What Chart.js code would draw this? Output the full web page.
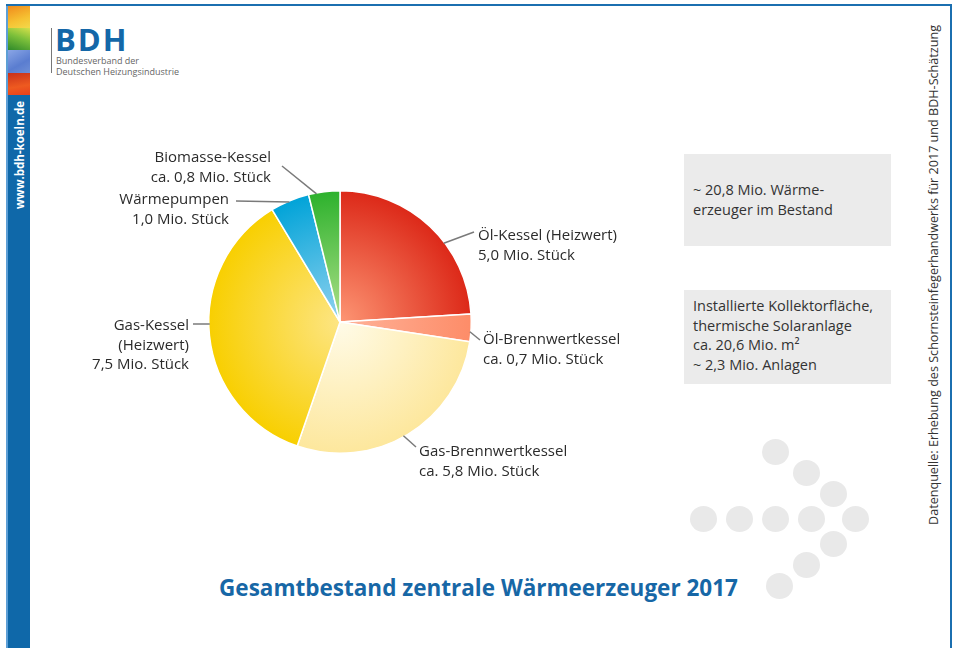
<!DOCTYPE html>
<html>
<head>
<meta charset="utf-8">
<script src="https://cdn.jsdelivr.net/npm/chart.js@4"></script>
<style>
    body { margin: 0; background: #fff; font-family: "Open Sans", sans-serif; }
    #page { position: relative; width: 957px; height: 648px; overflow: hidden; }
    #pie { position: absolute; left: 0; top: 0; }
    .abs { position: absolute; }
    .box { position: absolute; background: #ebebeb; color: #333; font-size: 14.5px; line-height: 19.5px; box-sizing: border-box; padding-left: 9px; }
    .dot { position: absolute; width: 27px; height: 26px; border-radius: 50%; background: #e9e9e9; }
</style>
</head>
<body>
<div id="page">
    <!-- frame -->
    <div class="abs" style="left:6px; top:4px; width:946px; height:2px; background:#1b6fb0;"></div>
    <div class="abs" style="left:950px; top:4px; width:2px; height:644px; background:#1b6fb0;"></div>
    <div class="abs" style="left:6px; top:6px; width:2px; height:642px; background:#5d9fd6;"></div>
    <div class="abs" style="left:8px; top:6px; width:22px; height:22px; background:linear-gradient(160deg,#f08a1c,#f6c132 60%,#f3d94a);"></div>
    <div class="abs" style="left:8px; top:28px; width:22px; height:22px; background:linear-gradient(200deg,#d5e04a,#7bbf3a 45%,#2f8a2a);"></div>
    <div class="abs" style="left:8px; top:50px; width:22px; height:23px; background:linear-gradient(150deg,#8aa6e6,#5a7dd0 60%,#6f8fd6);"></div>
    <div class="abs" style="left:8px; top:73px; width:22px; height:22px; background:linear-gradient(170deg,#c8301a,#ee5a20 60%,#e8401c);"></div>
    <div class="abs" style="left:8px; top:95px; width:22px; height:553px; background:#0f68a9;"></div>
    <div class="abs" style="left:19px; top:155px; transform:translate(-50%,-50%) rotate(-90deg); color:#fff; font-weight:bold; font-size:11.5px; white-space:nowrap;">www.bdh-koeln.de</div>

    <!-- logo -->
    <div class="abs" style="left:51px; top:28px; width:1px; height:45px; background:#777;"></div>
    <div class="abs" style="left:55px; top:19px; color:#1467a8; font-weight:bold; font-size:31px; line-height:40px; letter-spacing:2px;">BDH</div>
    <div class="abs" style="left:56px; top:56px; color:#666; font-size:9px; line-height:10.5px;">Bundesverband der<br>Deutschen Heizungsindustrie</div>

    <!-- source -->
    <div class="abs" style="left:933px; top:275px; transform:translate(-50%,-50%) rotate(-90deg); color:#333; font-size:12.6px; white-space:nowrap;">Datenquelle: Erhebung des Schornsteinfegerhandwerks für 2017 und BDH-Schätzung</div>

    <!-- info boxes -->
    <div class="box" style="left:684px; top:154px; width:207px; height:92px; padding-top:26px;">~ 20,8 Mio. Wärme-<br>erzeuger im Bestand</div>
    <div class="box" style="left:684px; top:290px; width:207px; height:94px; padding-top:6px;">Installierte Kollektorfläche,<br>thermische Solaranlage<br>ca. 20,6 Mio. m²<br>~ 2,3 Mio. Anlagen</div>

    <!-- arrow of dots -->
    <div class="dot" style="left:762px; top:439px;"></div>
    <div class="dot" style="left:793px; top:460px;"></div>
    <div class="dot" style="left:820px; top:481px;"></div>
    <div class="dot" style="left:690px; top:506px;"></div>
    <div class="dot" style="left:726px; top:506px;"></div>
    <div class="dot" style="left:762px; top:506px;"></div>
    <div class="dot" style="left:798px; top:506px;"></div>
    <div class="dot" style="left:842px; top:506px;"></div>
    <div class="dot" style="left:820px; top:531px;"></div>
    <div class="dot" style="left:793px; top:552px;"></div>
    <div class="dot" style="left:766px; top:573px;"></div>

    <div class="abs" style="left:0; width:957px; top:573px; text-align:center; color:#1767a6; font-weight:bold; font-size:22.5px; line-height:30px;">Gesamtbestand zentrale Wärmeerzeuger 2017</div>

    <canvas id="pie" width="957" height="648"></canvas>
</div>
<script>
const categories = ["Öl-Kessel (Heizwert)", "Öl-Brennwertkessel", "Gas-Brennwertkessel", "Gas-Kessel (Heizwert)", "Wärmepumpen", "Biomasse-Kessel"];
const values = [5.0, 0.7, 5.8, 7.5, 1.0, 0.8];
const approx = [false, true, true, false, false, true];
const nameLines = [["Öl-Kessel (Heizwert)"], ["Öl-Brennwertkessel"], ["Gas-Brennwertkessel"], ["Gas-Kessel", "(Heizwert)"], ["Wärmepumpen"], ["Biomasse-Kessel"]];

// inner / outer colours of each slice gradient
const innerColors = ["#fd9674", "#ffb39a", "#fffbe8", "#fde583", "#92d2ef", "#b0e08a"];
const outerColors = ["#dc2818", "#fd8c68", "#fde79c", "#f8cf00", "#00a3d8", "#2cb12c"];

// label placement: fraction inside slice for leader start, leader end, text anchor
const labelLayout = [
    { t: 0.61, ex: 474, ey: 232, x: 478, y: 236, align: "left" },
    { t: 0.64, ex: 480, ey: 340, x: 483, y: 340, align: "left" },
    { t: 0.52, ex: 416, ey: 447, x: 419, y: 452, align: "left" },
    { t: 0.54, ex: 193, ey: 324, x: 189, y: 326, align: "right" },
    { t: 0.48, ex: 236, ey: 201, x: 229, y: 200, align: "right" },
    { t: 0.25, ex: 282, ey: 166, x: 271, y: 158, align: "right" }
];

function fmt(v) {
    return v.toFixed(1).replace(".", ",");
}

function sliceColor(context) {
    const chart = context.chart;
    const area = chart.chartArea;
    if (!area) return outerColors[context.dataIndex];
    const cx = (area.left + area.right) / 2;
    const cy = (area.top + area.bottom) / 2;
    const r = Math.min(area.right - area.left, area.bottom - area.top) / 2;
    const g = chart.ctx.createRadialGradient(cx, cy, 0, cx, cy, r);
    g.addColorStop(0, innerColors[context.dataIndex]);
    g.addColorStop(1, outerColors[context.dataIndex]);
    return g;
}

const labelPlugin = {
    id: "pieLabels",
    afterDatasetsDraw(chart) {
        const ctx = chart.ctx;
        const arcs = chart.getDatasetMeta(0).data;
        ctx.save();
        arcs.forEach((arc, i) => {
            const lay = labelLayout[i];
            const a = arc.startAngle + (arc.endAngle - arc.startAngle) * lay.t;
            const sx = arc.x + Math.cos(a) * (arc.outerRadius - 1);
            const sy = arc.y + Math.sin(a) * (arc.outerRadius - 1);
            ctx.strokeStyle = "#7a7a7a";
            ctx.lineWidth = 1.5;
            ctx.beginPath();
            ctx.moveTo(sx, sy);
            ctx.lineTo(lay.ex, lay.ey);
            ctx.stroke();

            const lines = nameLines[i].concat([(approx[i] ? "ca. " : "") + fmt(values[i]) + " Mio. Stück"]);
            ctx.fillStyle = "#2b2b2b";
            ctx.font = "15px 'Open Sans'";
            ctx.textAlign = lay.align;
            ctx.textBaseline = "middle";
            lines.forEach((ln, k) => ctx.fillText(ln, lay.x, lay.y + k * 19.5));
        });
        ctx.restore();
    }
};

new Chart(document.getElementById("pie"), {
    type: "pie",
    data: {
        labels: categories,
        datasets: [{
            data: values,
            backgroundColor: sliceColor,
            borderColor: "#ffffff",
            borderWidth: 1.5
        }]
    },
    options: {
        responsive: false,
        animation: false,
        layout: { padding: { left: 208, right: 485, top: 190, bottom: 194 } },
        plugins: {
            legend: { display: false },
            tooltip: { enabled: false }
        }
    },
    plugins: [labelPlugin]
});
</script>
</body>
</html>
